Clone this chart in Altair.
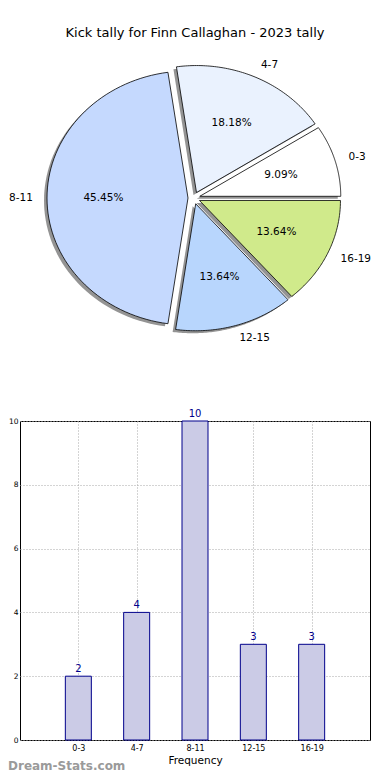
import altair as alt
import pandas as pd

# ---- data ----
categories = ["0-3", "4-7", "8-11", "12-15", "16-19"]
counts = [2, 4, 10, 3, 3]
slice_colors = ["#ffffff", "#eaf2fe", "#c5d9fe", "#b8d6fd", "#d0ea8b"]
y_ticks = [0, 2, 4, 6, 8, 10]
title_text = "Kick tally for Finn Callaghan - 2023 tally"
x_title = "Frequency"
watermark = "Dream-Stats.com"

df = pd.DataFrame({"category": categories, "count": counts,
                   "order": list(range(len(categories)))})

# ---- layout constants (pixels) ----
W, H = 350, 319
CX, CY = 174, -223     # pie centre relative to bar plot origin
RX, RY = 141, 127      # pie is drawn as an ellipse (unequal axes)
EX, EY = 6, 6          # explode distance
SX, SY = 3, 2.5        # shadow offset (left, down)
NSEG = 72
FONT = "DejaVu Sans"

base = alt.Chart(df)

pie_base = base.transform_joinaggregate(
    total="sum(count)"
).transform_window(
    cum="sum(count)", sort=[alt.SortField("order")], frame=[None, 0]
).transform_calculate(
    a0="2*PI*(datum.cum - datum.count)/datum.total",
    a1="2*PI*datum.cum/datum.total",
).transform_calculate(
    mid="(datum.a0 + datum.a1)/2",
    pct="format(100*datum.count/datum.total, '.2f') + '%'",
).transform_calculate(
    cx=f"{CX} + {EX}*cos(datum.mid)",
    cy=f"{CY} - {EY}*sin(datum.mid)",
).transform_calculate(
    lx=f"datum.cx + 1.1*{RX}*cos(datum.mid)",
    ly=f"datum.cy - 1.1*{RY}*sin(datum.mid)",
    px=f"datum.cx + 0.6*{RX}*cos(datum.mid)",
    py=f"datum.cy - 0.6*{RY}*sin(datum.mid)",
)

# outline points of each wedge (apex + elliptical arc)
wedge_pts = pie_base.transform_calculate(
    steps=f"sequence(-1, {NSEG + 1})"
).transform_flatten(
    ["steps"], as_=["step"]
).transform_calculate(
    ang=f"datum.a0 + (datum.a1 - datum.a0)*datum.step/{NSEG}",
).transform_calculate(
    vx=f"datum.step < 0 ? datum.cx : datum.cx + {RX}*cos(datum.ang)",
    vy=f"datum.step < 0 ? datum.cy : datum.cy - {RY}*sin(datum.ang)",
).transform_calculate(
    svx=f"datum.vx - {SX}",
    svy=f"datum.vy + {SY}",
)

shadow = wedge_pts.mark_line(
    interpolate="linear-closed", fill="black", fillOpacity=0.42, strokeOpacity=0
).encode(
    x=alt.X("svx:Q", scale=None),
    y=alt.Y("svy:Q", scale=None),
    order=alt.Order("step:Q"),
    detail="category:N",
)

wedges = wedge_pts.mark_line(
    interpolate="linear-closed", stroke="black", strokeWidth=0.8, strokeJoin="miter"
).encode(
    x=alt.X("vx:Q", scale=None),
    y=alt.Y("vy:Q", scale=None),
    order=alt.Order("step:Q"),
    detail="category:N",
    fill=alt.Fill("category:N", scale=alt.Scale(domain=categories, range=slice_colors), legend=None),
)

labels_right = pie_base.transform_filter("cos(datum.mid) >= 0").mark_text(
    align="left", baseline="middle", font=FONT, fontSize=10.5, color="black"
).encode(
    x=alt.X("lx:Q", scale=None), y=alt.Y("ly:Q", scale=None), text="category:N"
)
labels_left = pie_base.transform_filter("cos(datum.mid) < 0").mark_text(
    align="right", baseline="middle", font=FONT, fontSize=10.5, color="black"
).encode(
    x=alt.X("lx:Q", scale=None), y=alt.Y("ly:Q", scale=None), text="category:N"
)
pct_labels = pie_base.mark_text(
    align="center", baseline="middle", font=FONT, fontSize=10.5, color="black"
).encode(
    x=alt.X("px:Q", scale=None), y=alt.Y("py:Q", scale=None), text="pct:N"
)

wm = alt.Chart(pd.DataFrame({"t": [watermark]})).mark_text(
    align="left", baseline="bottom", font=FONT, fontSize=12, fontWeight="bold", color="#9a9a9a"
).encode(x=alt.value(-12), y=alt.value(H + 33), text="t:N")

pie = alt.layer(shadow, wedges, labels_right, labels_left, pct_labels, wm)

# ---- bar chart ----
x_enc = alt.X("category:N", sort=categories,
              scale=alt.Scale(type="point", padding=1),
              axis=alt.Axis(title=x_title, labelAngle=0, grid=True,
                            labelPadding=4, titlePadding=3))
y_enc = alt.Y("count:Q", scale=alt.Scale(domain=[0, 10]),
              axis=alt.Axis(values=y_ticks, title=None, grid=True,
                            labelPadding=2, labelFontSize=7.5))

bars = base.mark_bar(size=26, color="#cbcbe6", stroke="#00008b", strokeWidth=1).encode(
    x=x_enc, y=y_enc
)
bar_text = base.mark_text(baseline="bottom", dy=-2, font=FONT, fontSize=10,
                          color="#00008b").encode(
    x=alt.X("category:N", sort=categories, scale=alt.Scale(type="point", padding=1)),
    y=alt.Y("count:Q", scale=alt.Scale(domain=[0, 10])),
    text="count:Q",
)
bar_chart = alt.layer(bars, bar_text)

chart = alt.layer(bar_chart, pie).resolve_scale(
    x="independent", y="independent"
).properties(
    width=W, height=H,
    title=alt.TitleParams(title_text, font=FONT, fontSize=13, fontWeight="normal",
                          color="black", anchor="middle", offset=20),
    autosize=alt.AutoSizeParams(type="none"),
    padding={"left": 12, "top": 413, "right": 12, "bottom": 32},
).configure_axis(
    labelFont=FONT, labelFontSize=8, labelColor="black",
    titleFont=FONT, titleFontSize=10.5, titleFontWeight="normal", titleColor="black",
    ticks=False, domain=False,
    gridColor="#a8a8a8", gridDash=[1, 2], gridWidth=1, zindex=1,
).configure_view(stroke="black", strokeWidth=1)

chart.save("out.html", embed_options={"renderer": "svg", "actions": False})
